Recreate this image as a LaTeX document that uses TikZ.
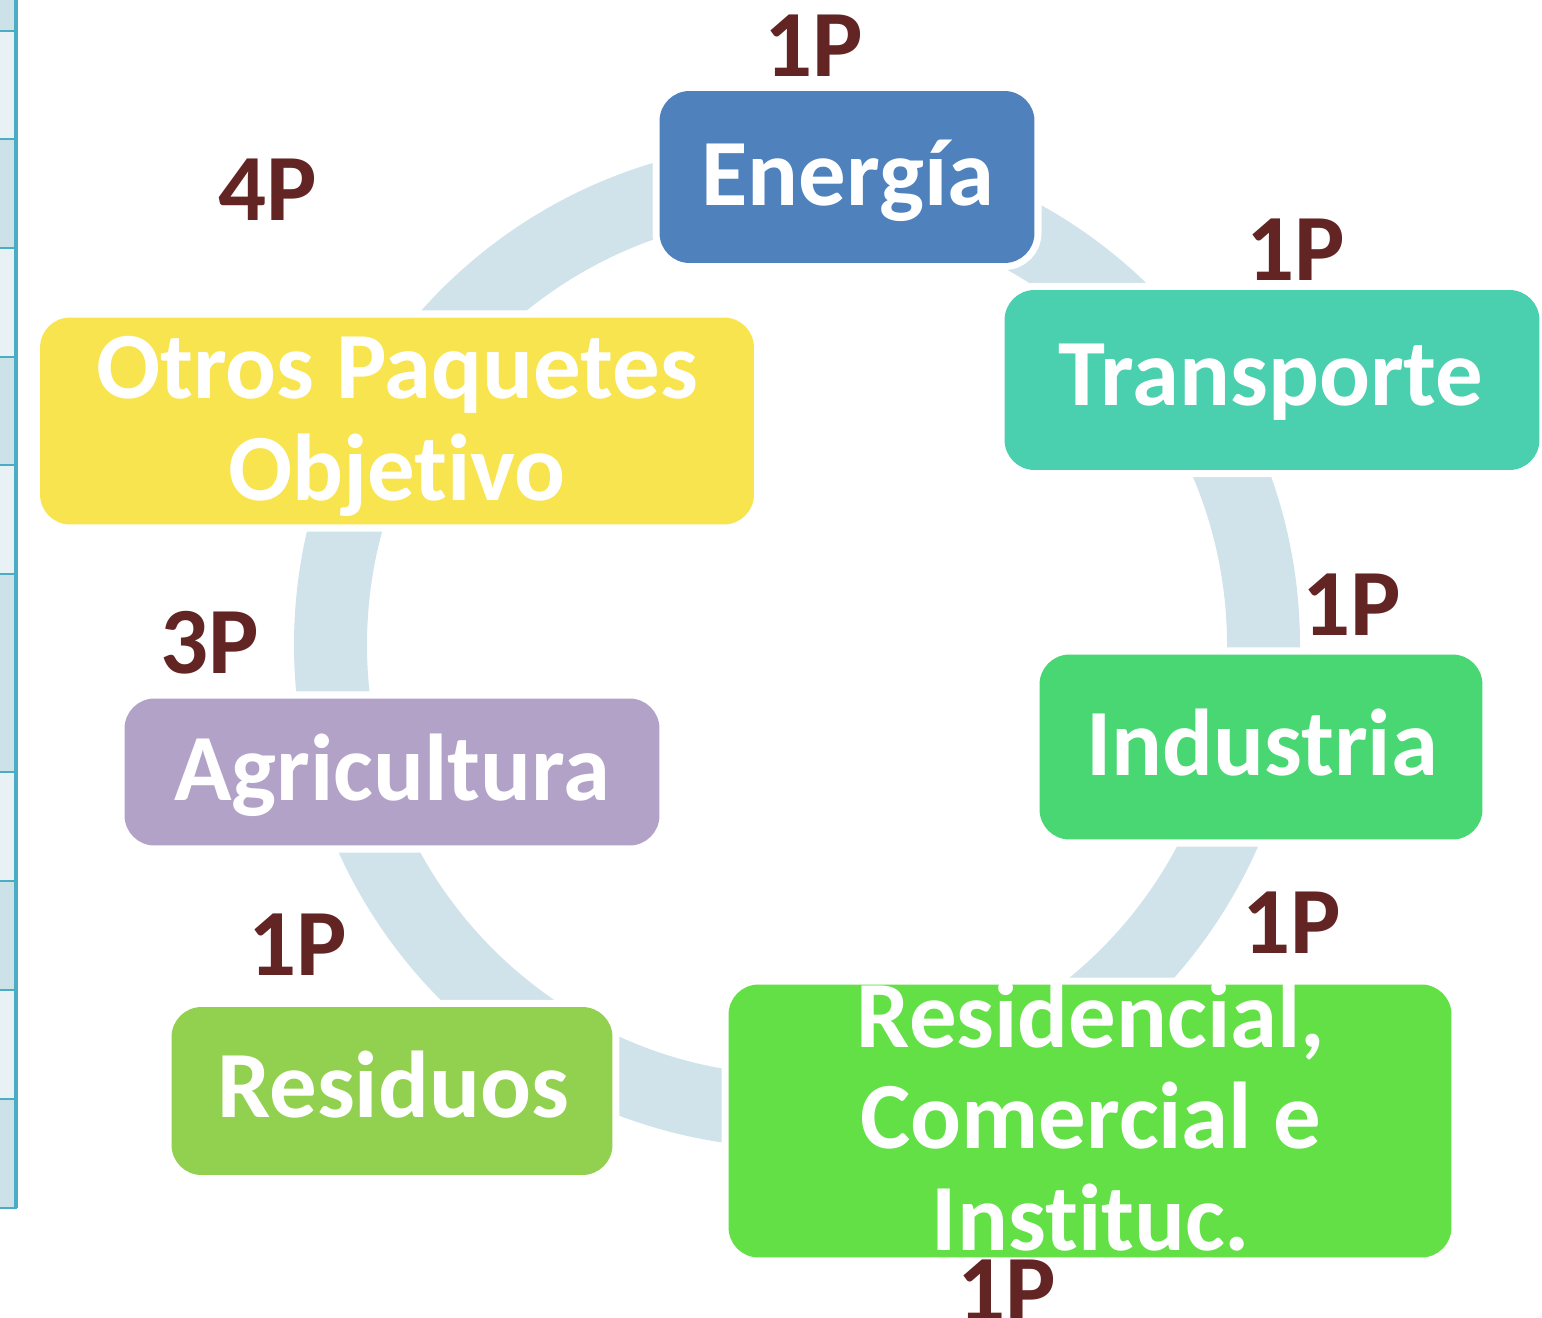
\documentclass[tikz,border=0pt]{standalone}
\usepackage{fontspec}
\setmainfont{Carlito}[Ligatures=NoCommon]
\usepackage{xcolor}
\usetikzlibrary{positioning}
\definecolor{anillo}{HTML}{D0E2EA}
\definecolor{puntos}{HTML}{632523}
\definecolor{cEnergia}{HTML}{4F81BD}
\definecolor{cTransporte}{HTML}{4ACFAF}
\definecolor{cIndustria}{HTML}{48D772}
\definecolor{cResidencial}{HTML}{62E046}
\definecolor{cResiduos}{HTML}{92D050}
\definecolor{cAgricultura}{HTML}{B2A2C8}
\definecolor{cOtros}{HTML}{F8E44F}
\definecolor{tablaA}{HTML}{CDE1E9}
\definecolor{tablaB}{HTML}{E8F1F4}
\definecolor{tablaLinea}{HTML}{4BACC6}
\tikzset{
  caja/.style={rectangle, rounded corners=0.6cm, inner sep=0pt,
    preaction={draw=white, line width=8pt}},
  texto/.style={text=white, align=center, inner sep=0pt,
    font=\fontsize{54}{58}\selectfont\bfseries},
  etiqueta/.style={text=puntos, inner sep=0pt, anchor=base,
    font=\fontsize{54}{58}\selectfont\bfseries},
}

\begin{document}
\begin{tikzpicture}[x=0.02cm,y=-0.02cm]
            \useasboundingbox (0,0) rectangle (1542,1318);
            \clip (0,0) rectangle (1542,1318);
            % table edge on the left
            \foreach \ya/\yb/\c in {0/31/tablaA,31/139/tablaB,139/248/tablaA,248/357/tablaB,
              357/465/tablaA,465/574/tablaB,574/772/tablaA,772/881/tablaB,
              881/990/tablaA,990/1099/tablaB,1099/1208/tablaA}
              \fill[\c] (0,\ya) rectangle (15,\yb);
            \foreach \y in {31,139,248,357,465,574,772,881,990,1099,1208}
              \draw[tablaLinea,line width=1.2pt] (0,\y) -- (17,\y);
            \draw[tablaLinea,line width=1.8pt] (16,0) -- (16,1208);
            % ring
            \coordinate (centro) at (797,645);
            \draw[anillo,line width=1.46cm] (centro) circle[radius=466.5];
            % boxes
            \node[caja,fill=cEnergia,minimum width=7.5cm,minimum height=3.44cm] (energia) at (847,177) {};
            \node[caja,fill=cTransporte,minimum width=10.7cm,minimum height=3.6cm] (transporte) at (1272,380) {};
            \node[caja,fill=cIndustria,minimum width=8.86cm,minimum height=3.7cm] (industria) at (1261,747) {};
            \node[caja,fill=cResidencial,minimum width=14.46cm,minimum height=5.46cm] (residencial) at (1090,1121) {};
            \node[caja,fill=cResiduos,minimum width=8.82cm,minimum height=3.36cm] (residuos) at (392,1091) {};
            \node[caja,fill=cAgricultura,minimum width=10.7cm,minimum height=2.94cm] (agricultura) at (392,772) {};
            \node[caja,fill=cOtros,minimum width=14.28cm,minimum height=4.14cm] (otros) at (397,421) {};
            % box texts
            \node[texto,anchor=base] (energia-t) at (848,205) {Energía};
            \node[texto,anchor=base] (transporte-t) at (1271,405) {Transporte};
            \node[texto,anchor=base] (industria-t) at (1262,775) {Industria};
            \node[texto] (residencial-t) at (1091,1116) {Residencial,\\Comercial e\\Instituc.};
            \node[texto,anchor=base] (residuos-t) at (393,1117) {Residuos};
            \node[texto,anchor=base] (agricultura-t) at (392,800) {Agricultura};
            \node[texto] (otros-t) at (397,426) {Otros Paquetes\\Objetivo};
            % counts
            \node[etiqueta] (p-energia) at (814,77) {1P};
            \node[etiqueta] (p-otros) at (268,220) {4P};
            \node[etiqueta] (p-transporte) at (1296,280) {1P};
            \node[etiqueta] (p-industria) at (1352,635) {1P};
            \node[etiqueta] (p-agricultura) at (210,673) {3P};
            \node[etiqueta] (p-residencial) at (1292,953) {1P};
            \node[etiqueta] (p-residuos) at (298,975) {1P};
            \node[etiqueta] (p-abajo) at (1007,1321) {1P};
           \end{tikzpicture}
\end{document}
